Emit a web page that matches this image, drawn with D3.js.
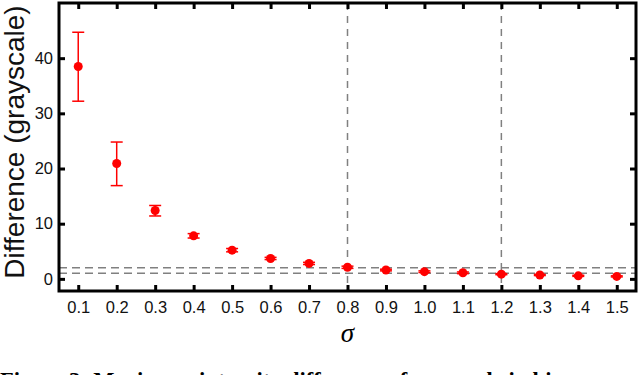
<!DOCTYPE html>
<html>
<head>
<meta charset="utf-8">
<script src="https://cdn.jsdelivr.net/npm/d3@7"></script>
<style>
  body { margin: 0; background: #fff; }
  svg { display: block; }
  text { font-family: "Liberation Sans", Arial, sans-serif; }
</style>
</head>
<body>
<div id="content"></div>
<script>
// Data
var sigma = [0.1, 0.2, 0.3, 0.4, 0.5, 0.6, 0.7, 0.8, 0.9, 1.0, 1.1, 1.2, 1.3, 1.4, 1.5];
var meanDiff = [38.5, 20.9, 12.4, 7.8, 5.2, 3.7, 2.8, 2.1, 1.6, 1.3, 1.1, 0.85, 0.7, 0.55, 0.45];
var errLow = [32.2, 16.9, 11.4, 7.4, 4.9, 3.5, 2.6, 1.9, 1.45, 1.15, 0.95, 0.75, 0.6, 0.45, 0.35];
var errHigh = [44.7, 24.8, 13.3, 8.2, 5.5, 3.9, 3.0, 2.3, 1.75, 1.45, 1.25, 0.95, 0.8, 0.65, 0.55];
var yTicks = [0, 10, 20, 30, 40];
var hLines = [1, 2];
var vLines = [0.8, 1.2];

var width = 640, height = 375;
var mLeft = 59, mRight = 636, mTop = 3, mBottom = 291;

var svg = d3.select("#content").append("svg")
    .attr("width", width)
    .attr("height", height);

var x = d3.scaleLinear().domain([0.05, 1.55]).range([mLeft, mRight]),
    y = d3.scaleLinear().domain([-2.2, 50]).range([mBottom, mTop]);

// reference lines
svg.selectAll(".hl").data(hLines).join("line")
    .attr("x1", mLeft).attr("x2", mRight)
    .attr("y1", d => y(d)).attr("y2", d => y(d))
    .attr("stroke", "#808080").attr("stroke-width", 1.5)
    .attr("stroke-dasharray", "8,5");

svg.selectAll(".vl").data(vLines).join("line")
    .attr("x1", d => x(d)).attr("x2", d => x(d))
    .attr("y1", mTop).attr("y2", mBottom)
    .attr("stroke", "#808080").attr("stroke-width", 1.5)
    .attr("stroke-dasharray", "7,6");

// axes (ticks inward, mirrored)
var fmt = d3.format(".1f");
svg.append("g")
    .attr("transform", "translate(0," + mBottom + ")")
    .call(d3.axisBottom(x).tickValues(sigma).tickFormat(fmt).tickSizeInner(-6).tickSizeOuter(0).tickPadding(10));
svg.append("g")
    .attr("transform", "translate(0," + mTop + ")")
    .call(d3.axisTop(x).tickValues(sigma).tickFormat("").tickSizeInner(-6).tickSizeOuter(0));
svg.append("g")
    .attr("transform", "translate(" + mLeft + ",0)")
    .call(d3.axisLeft(y).tickValues(yTicks).tickSizeInner(-6).tickSizeOuter(0).tickPadding(6));
svg.append("g")
    .attr("transform", "translate(" + mRight + ",0)")
    .call(d3.axisRight(y).tickValues(yTicks).tickFormat("").tickSizeInner(-6).tickSizeOuter(0));

svg.selectAll(".domain").remove();
svg.selectAll(".tick line").attr("stroke", "#000").attr("stroke-width", 3);
svg.selectAll(".tick text").attr("font-size", 16.5).attr("fill", "#111")
    .style("font-family", "'Liberation Sans', Arial, sans-serif");

// frame
svg.append("rect")
    .attr("x", mLeft).attr("y", mTop)
    .attr("width", mRight - mLeft).attr("height", mBottom - mTop)
    .attr("fill", "none").attr("stroke", "#000").attr("stroke-width", 3);

// error bars
var pts = sigma.map((s, i) => ({s: s, m: meanDiff[i], lo: errLow[i], hi: errHigh[i]}));
var g = svg.append("g").attr("stroke", "#f00").attr("stroke-width", 1.5);
g.selectAll(".eb").data(pts).join("line")
    .attr("x1", d => x(d.s)).attr("x2", d => x(d.s))
    .attr("y1", d => y(d.lo)).attr("y2", d => y(d.hi));
g.selectAll(".cl").data(pts).join("line")
    .attr("x1", d => x(d.s) - 6).attr("x2", d => x(d.s) + 6)
    .attr("y1", d => y(d.lo)).attr("y2", d => y(d.lo));
g.selectAll(".ch").data(pts).join("line")
    .attr("x1", d => x(d.s) - 6).attr("x2", d => x(d.s) + 6)
    .attr("y1", d => y(d.hi)).attr("y2", d => y(d.hi));

svg.selectAll(".pt").data(pts).join("circle")
    .attr("cx", d => x(d.s)).attr("cy", d => y(d.m))
    .attr("r", 4.5).attr("fill", "#f00");

// labels
svg.append("text")
    .attr("transform", "translate(24,142) rotate(-90)")
    .attr("text-anchor", "middle")
    .attr("font-size", 28).attr("fill", "#111")
    .text("Difference (grayscale)");

svg.append("text")
    .attr("x", x(0.8)).attr("y", 342)
    .attr("text-anchor", "middle")
    .attr("font-size", 27).attr("font-style", "italic")
    .style("font-family", "'Liberation Serif', 'Times New Roman', serif")
    .text("σ");

// caption, cut off by the page edge
svg.append("text")
    .attr("x", 0).attr("y", 388)
    .attr("font-size", 22.5).attr("font-weight", "bold")
    .style("font-family", "'Liberation Serif', 'Times New Roman', serif")
    .text("Figure 3: Maximum intensity difference of grayscale in bi");
</script>
</body>
</html>
